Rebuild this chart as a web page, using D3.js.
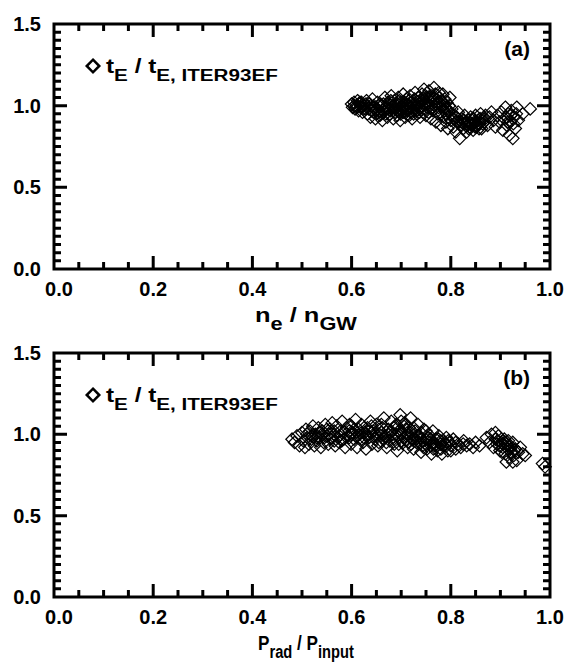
<!DOCTYPE html>
<html>
<head>
<meta charset="utf-8">
<script src="https://cdn.jsdelivr.net/npm/d3@7"></script>
<style>
  body { margin: 0; background: #fff; }
  svg { display: block; }
  .lbl { font-family: "Liberation Sans", Arial, sans-serif; font-weight: bold; fill: #000; }
</style>
</head>
<body>
<svg width="573" height="666"></svg>
<script>
// tau_E / tau_E,ITER93EF against n_e / n_GW   [x, y]
const densityPoints = [
  [0.600, 1.01], [0.602, 0.99], [0.605, 1.02], [0.607, 0.98], [0.610, 1.00], [0.612, 1.03], [0.614, 0.97],
  [0.616, 1.01], [0.618, 0.99], [0.620, 1.02], [0.622, 0.96], [0.625, 1.00], [0.628, 0.98], [0.630, 1.03],
  [0.632, 0.95], [0.611, 0.99], [0.606, 1.00], [0.617, 1.02],
  [0.635, 1.01], [0.638, 0.93], [0.640, 0.97], [0.642, 1.04], [0.645, 0.99], [0.648, 0.92], [0.650, 0.95],
  [0.652, 1.02], [0.655, 0.97], [0.657, 0.94], [0.660, 1.00], [0.662, 0.91], [0.665, 0.96], [0.667, 1.05],
  [0.670, 0.98], [0.672, 0.93], [0.652, 0.98], [0.658, 1.01], [0.663, 0.97], [0.668, 0.99], [0.673, 1.02],
  [0.675, 1.01], [0.677, 0.95], [0.680, 1.06], [0.682, 0.99], [0.684, 0.92], [0.686, 1.03], [0.688, 0.96],
  [0.690, 1.00], [0.692, 0.94], [0.694, 1.05], [0.696, 0.98], [0.698, 0.91], [0.700, 1.02], [0.702, 0.96],
  [0.704, 1.07], [0.706, 0.99], [0.678, 0.97], [0.683, 1.00], [0.689, 0.98], [0.693, 1.01], [0.697, 0.96],
  [0.703, 0.99], [0.707, 1.02], [0.708, 0.93], [0.710, 1.04], [0.712, 0.97], [0.714, 1.01], [0.716, 0.94],
  [0.718, 1.06], [0.720, 0.99], [0.722, 0.92], [0.724, 1.03], [0.726, 0.97], [0.728, 1.08], [0.730, 1.00],
  [0.732, 0.95], [0.734, 1.05], [0.736, 0.98], [0.738, 0.93], [0.740, 1.02], [0.711, 0.98], [0.715, 1.03],
  [0.719, 0.96], [0.723, 1.00], [0.727, 1.04], [0.731, 0.97], [0.735, 1.01], [0.739, 0.99],
  [0.742, 1.07], [0.744, 0.96], [0.746, 1.10], [0.748, 1.01], [0.750, 0.94], [0.752, 1.05], [0.754, 0.99],
  [0.756, 1.09], [0.758, 1.03], [0.760, 0.92], [0.762, 1.06], [0.764, 0.97], [0.766, 1.11], [0.768, 1.00],
  [0.770, 0.90], [0.772, 1.04], [0.774, 0.95], [0.776, 1.08], [0.778, 1.02], [0.743, 1.03], [0.747, 0.98],
  [0.751, 1.02], [0.755, 0.96], [0.759, 1.00], [0.763, 1.03], [0.767, 0.98], [0.771, 1.01], [0.775, 0.99],
  [0.779, 0.96], [0.780, 0.88], [0.782, 0.99], [0.784, 1.07], [0.786, 0.93], [0.788, 1.04], [0.790, 0.90],
  [0.792, 1.02], [0.794, 0.86], [0.796, 0.96], [0.798, 1.05], [0.800, 0.91], [0.783, 1.00], [0.787, 0.97],
  [0.791, 0.95], [0.795, 0.93],
  [0.802, 0.98], [0.805, 0.87], [0.808, 0.94], [0.810, 0.84], [0.812, 0.90], [0.815, 0.96], [0.818, 0.80],
  [0.820, 0.88], [0.822, 0.92], [0.825, 0.86], [0.828, 0.94], [0.830, 0.89], [0.832, 0.84], [0.835, 0.91],
  [0.838, 0.87], [0.840, 0.93], [0.842, 0.88], [0.845, 0.85], [0.848, 0.90], [0.850, 0.94], [0.852, 0.87],
  [0.855, 0.91], [0.858, 0.89], [0.860, 0.95], [0.862, 0.86], [0.865, 0.92], [0.868, 0.90], [0.870, 0.94],
  [0.826, 0.89], [0.834, 0.88], [0.844, 0.89], [0.851, 0.88], [0.857, 0.86], [0.836, 0.86], [0.846, 0.92],
  [0.874, 0.88], [0.878, 0.93], [0.882, 0.96], [0.886, 0.91], [0.890, 0.87], [0.894, 0.94], [0.898, 0.90],
  [0.902, 0.96], [0.905, 0.85], [0.908, 0.92], [0.910, 0.99], [0.913, 0.88], [0.916, 0.95], [0.918, 0.82],
  [0.920, 0.90], [0.922, 0.97], [0.925, 0.80], [0.928, 0.93], [0.930, 0.86], [0.933, 0.99], [0.936, 0.91],
  [0.912, 0.93], [0.915, 0.90], [0.921, 0.94], [0.926, 0.89], [0.932, 0.95], [0.945, 0.95], [0.960, 0.98],
  [0.645, 1.00], [0.649, 0.97], [0.654, 1.00], [0.659, 0.95], [0.664, 1.01], [0.669, 0.95], [0.674, 0.98],
  [0.679, 1.03], [0.684, 0.97], [0.688, 1.01], [0.691, 0.97], [0.696, 1.03], [0.699, 0.95], [0.701, 0.99],
  [0.705, 0.96], [0.709, 1.00], [0.713, 0.95], [0.717, 0.99], [0.721, 1.02], [0.725, 0.95], [0.729, 0.99],
  [0.733, 1.02], [0.737, 0.96], [0.741, 1.00], [0.745, 1.04], [0.749, 1.06], [0.753, 1.01], [0.757, 1.05],
  [0.761, 0.98], [0.765, 1.05], [0.769, 1.07], [0.773, 1.02], [0.777, 1.05], [0.781, 1.03], [0.785, 1.02],
  [0.789, 0.99], [0.793, 0.98], [0.797, 1.00], [0.801, 0.95], [0.806, 0.92], [0.811, 0.93], [0.816, 0.90],
  [0.821, 0.90], [0.827, 0.91], [0.833, 0.90], [0.839, 0.89], [0.843, 0.91], [0.849, 0.87], [0.854, 0.89],
  [0.859, 0.92], [0.864, 0.89], [0.869, 0.92], [0.619, 1.00], [0.624, 0.98], [0.629, 1.01], [0.634, 0.98],
  [0.639, 1.00], [0.644, 0.96]
]

// tau_E / tau_E,ITER93EF against P_rad / P_input   [x, y]
const radiationPoints = [
  [0.480, 0.97], [0.485, 0.95], [0.490, 0.99], [0.495, 0.93], [0.500, 1.01], [0.503, 0.96], [0.506, 0.92],
  [0.508, 1.03], [0.511, 0.98], [0.514, 0.94], [0.516, 1.02], [0.519, 0.97], [0.522, 1.05], [0.525, 0.93],
  [0.527, 1.00], [0.530, 0.96], [0.533, 1.04], [0.536, 0.98], [0.538, 0.92], [0.541, 1.02], [0.544, 0.95],
  [0.547, 1.06], [0.550, 0.99], [0.553, 0.94], [0.556, 1.03], [0.558, 0.97], [0.561, 1.07], [0.564, 1.00],
  [0.567, 0.93], [0.570, 1.05], [0.572, 0.98], [0.575, 0.95], [0.578, 1.02], [0.581, 1.08], [0.584, 0.97],
  [0.587, 0.92], [0.590, 1.04], [0.593, 0.99], [0.596, 1.06], [0.599, 0.94], [0.602, 1.01], [0.605, 0.97],
  [0.608, 1.09], [0.611, 0.92], [0.614, 1.03], [0.617, 0.98], [0.620, 1.06], [0.623, 0.95], [0.626, 1.01],
  [0.629, 0.91], [0.632, 1.04], [0.635, 0.98], [0.638, 1.08], [0.641, 0.94], [0.644, 1.02], [0.647, 0.97],
  [0.650, 1.06], [0.653, 0.93], [0.656, 1.00], [0.659, 0.96], [0.662, 1.04], [0.665, 1.10], [0.668, 0.98],
  [0.671, 0.92], [0.674, 1.03], [0.677, 0.96], [0.680, 1.08], [0.683, 1.00], [0.686, 0.94], [0.689, 1.05],
  [0.692, 0.90], [0.695, 0.98], [0.698, 1.12], [0.701, 1.02], [0.704, 0.95], [0.707, 1.07], [0.710, 0.99],
  [0.713, 0.92], [0.716, 1.04], [0.719, 1.10], [0.722, 0.97], [0.725, 0.91], [0.728, 1.02], [0.731, 0.95],
  [0.734, 1.06], [0.737, 0.99], [0.740, 0.89], [0.743, 0.93], [0.746, 1.03], [0.749, 0.97], [0.752, 0.91],
  [0.755, 1.00], [0.758, 0.95], [0.761, 0.88], [0.764, 1.02], [0.767, 0.93], [0.770, 0.97], [0.773, 0.90],
  [0.776, 0.99], [0.779, 0.94], [0.782, 0.88], [0.785, 0.96], [0.788, 0.92], [0.791, 0.98], [0.794, 0.90],
  [0.797, 0.95], [0.800, 0.93], [0.805, 0.97], [0.810, 0.91], [0.815, 0.94], [0.820, 0.92], [0.826, 0.96],
  [0.832, 0.93], [0.838, 0.94], [0.845, 0.92], [0.850, 0.95], [0.858, 0.93],
  [0.520, 0.99], [0.535, 1.01], [0.545, 0.98], [0.555, 1.00], [0.565, 1.02], [0.575, 0.99], [0.585, 1.01],
  [0.595, 0.98], [0.605, 1.03], [0.615, 1.00], [0.625, 0.98], [0.635, 1.02], [0.645, 0.99], [0.655, 1.03],
  [0.665, 0.97], [0.675, 1.00], [0.685, 0.97], [0.695, 1.02], [0.705, 0.98], [0.715, 1.00], [0.725, 0.97],
  [0.735, 0.99], [0.745, 0.96], [0.755, 0.98], [0.765, 0.95], [0.775, 0.97], [0.785, 0.93], [0.795, 0.96],
  [0.705, 1.05], [0.715, 0.95], [0.725, 1.04], [0.695, 0.94], [0.745, 0.92], [0.765, 0.91], [0.735, 0.94],
  [0.685, 1.04], [0.655, 0.95], [0.625, 1.04], [0.595, 1.02], [0.565, 0.96],
  [0.600, 1.00], [0.610, 0.99], [0.620, 1.01], [0.630, 0.99], [0.640, 1.01], [0.650, 0.99], [0.660, 1.01],
  [0.670, 0.99], [0.680, 1.02], [0.690, 1.00], [0.700, 1.00], [0.710, 1.03], [0.720, 1.01], [0.730, 0.99],
  [0.740, 0.97], [0.750, 0.94], [0.760, 0.97], [0.770, 0.94], [0.780, 0.96], [0.790, 0.94], [0.700, 0.96],
  [0.710, 0.96], [0.720, 0.94], [0.730, 0.97], [0.740, 1.01], [0.750, 1.02], [0.690, 1.06], [0.700, 1.08],
  [0.710, 1.06], [0.660, 1.06], [0.640, 1.05], [0.600, 1.05], [0.580, 0.96], [0.560, 0.98], [0.540, 1.00],
  [0.530, 0.98], [0.510, 1.00], [0.550, 1.03], [0.620, 0.97], [0.670, 0.95], [0.760, 0.93], [0.780, 0.91],
  [0.800, 0.90], [0.810, 0.95], [0.825, 0.94],
  [0.872, 0.98], [0.878, 0.95], [0.882, 1.00], [0.886, 0.92], [0.890, 0.97], [0.893, 0.94], [0.896, 0.99],
  [0.899, 0.90], [0.902, 0.95], [0.905, 0.92], [0.908, 0.97], [0.910, 0.88], [0.913, 0.94], [0.915, 0.91],
  [0.918, 0.86], [0.920, 0.93], [0.922, 0.89], [0.925, 0.95], [0.927, 0.87], [0.930, 0.91], [0.933, 0.84],
  [0.936, 0.89], [0.940, 0.92], [0.945, 0.88], [0.950, 0.87], [0.912, 0.83], [0.925, 0.83], [0.898, 0.93],
  [0.905, 0.96], [0.916, 0.96], [0.890, 1.01], [0.903, 0.89], [0.928, 0.90], [0.905, 0.94], [0.915, 0.93],
  [0.920, 0.91], [0.910, 0.95], [0.895, 0.96],
  [0.985, 0.82], [0.990, 0.80]
]

const xMajorTicks = [0, 0.2, 0.4, 0.6, 0.8, 1.0]
const yMajorTicks = [0, 0.5, 1.0, 1.5]
const xMinorTicks = d3.range(0, 1.0001, 0.05)
const yMinorTicks = d3.range(0, 1.5001, 0.05)

const svg = d3.select('svg')
const left = 54
const right = 550
const diamond = d3.symbol().type(d3.symbolDiamond2).size(100)

// stretch a text node horizontally so it spans `width`, starting at x0
function fitWidth (sel, x0, width) {
  const box = sel.node().getBBox()
  const k = width / box.width
  sel.attr('transform', `translate(${x0},0) scale(${k},1) translate(${-box.x},0)`)
}

function frameAxes (g, x, y) {
  const [x0, x1] = x.range()
  const [y1, y0] = y.range()
  const len = (d, majors) => majors.some(m => Math.abs(m - d) < 1e-6) ? 13 : 7
  const p = d3.path()

  // frame
  p.rect(x0, y0, x1 - x0, y1 - y0)
  // inward ticks on all four sides
  xMinorTicks.forEach(d => {
    const h = len(d, xMajorTicks)
    p.moveTo(x(d), y1); p.lineTo(x(d), y1 - h)
    p.moveTo(x(d), y0); p.lineTo(x(d), y0 + h)
  })
  yMinorTicks.forEach(d => {
    const w = len(d, yMajorTicks)
    p.moveTo(x0, y(d)); p.lineTo(x0 + w, y(d))
    p.moveTo(x1, y(d)); p.lineTo(x1 - w, y(d))
  })
  g.append('path')
    .attr('d', p.toString())
    .attr('fill', 'none')
    .attr('stroke', '#000')
    .attr('stroke-width', 3)

  // tick labels
  g.selectAll('.xlab').data(xMajorTicks).enter().append('text')
    .attr('class', 'lbl xlab')
    .attr('font-size', 20)
    .attr('text-anchor', 'middle')
    .attr('x', (d, i) => x(d) + (i === 0 ? 5 : 0))
    .attr('y', y1 + 27)
    .text(d => d.toFixed(1))
  g.selectAll('.ylab').data(yMajorTicks).enter().append('text')
    .attr('class', 'lbl ylab')
    .attr('font-size', 20)
    .attr('text-anchor', 'end')
    .attr('x', x0 - 13)
    .attr('y', d => y(d) + 7)
    .text(d => d.toFixed(1))
}

function legend (g, px, py) {
  g.append('path')
    .attr('d', diamond)
    .attr('transform', `translate(${px},${py})`)
    .attr('fill', 'none').attr('stroke', '#000').attr('stroke-width', 2.5)
  const t = g.append('text').attr('class', 'lbl')
    .attr('x', 0).attr('y', py + 7).attr('font-size', 20)
  t.append('tspan').text('t')
  t.append('tspan').attr('dy', 8).attr('font-size', 17).text('E')
  t.append('tspan').attr('dy', -8).text(' / t')
  t.append('tspan').attr('dy', 8).attr('font-size', 17).text('E, ITER93EF')
  fitWidth(t, px + 13, 172)
}

function panel ({ top, bottom, points, tag, titleMain, sub1, titleMid, sub2, titleWidth }) {
  const x = d3.scaleLinear().domain([0, 1]).range([left, right])
  const y = d3.scaleLinear().domain([0, 1.5]).range([bottom, top])
  const g = svg.append('g')

  g.append('g').selectAll('path')
    .data(points)
    .enter().append('path')
    .attr('d', diamond)
    .attr('transform', d => `translate(${x(d[0])},${y(d[1])})`)
    .attr('fill', 'none')
    .attr('stroke', '#000')
    .attr('stroke-width', 1.2)

  legend(g, 93, top + 42)

  g.append('text').attr('class', 'lbl')
    .attr('x', right - 20).attr('y', top + 32)
    .attr('text-anchor', 'end').attr('font-size', 21)
    .text(tag)

  const t = g.append('text').attr('class', 'lbl')
    .attr('x', 0).attr('y', bottom + 53).attr('font-size', 21)
  t.append('tspan').text(titleMain)
  t.append('tspan').attr('dy', 8).attr('font-size', 18).text(sub1)
  t.append('tspan').attr('dy', -8).text(titleMid)
  t.append('tspan').attr('dy', 8).attr('font-size', 18).text(sub2)
  fitWidth(t, (left + right) / 2 - titleWidth / 2 + 4, titleWidth)

  frameAxes(g, x, y)
}

panel({ top: 24, bottom: 269, points: densityPoints, tag: '(a)', titleMain: 'n', sub1: 'e', titleMid: ' / n', sub2: 'GW', titleWidth: 102 })
panel({ top: 353, bottom: 597, points: radiationPoints, tag: '(b)', titleMain: 'P', sub1: 'rad', titleMid: ' / P', sub2: 'input', titleWidth: 96 })
</script>
</body>
</html>
